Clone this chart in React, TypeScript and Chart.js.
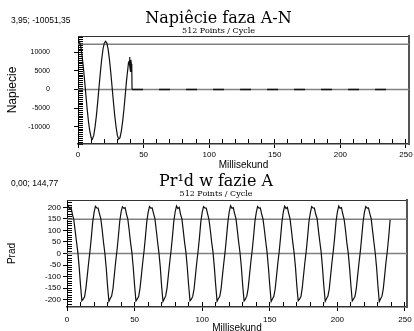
import React, { useEffect, useRef } from "react";
import { Chart, registerables } from "chart.js";

Chart.register(...registerables);

// ---------------- data ----------------
const voltTitle = "Napiêcie faza A-N";
const currTitle = "Pr¹d w fazie A";
const subtitleText = "512 Points / Cycle";
const xAxisTitle = "Millisekund";
const voltAxisTitle = "Napiecie";
const currAxisTitle = "Prad";
const voltReadout = "3,95; -10051,35";
const currReadout = "0,00; 144,77";

const timeTickLabels = [0, 50, 100, 150, 200, 250];
const timeMinorStep = 10;
const voltTickLabels = [-10000, -5000, 0, 5000, 10000];
const voltMinorStep = 500;
const currTickLabels = [-200, -150, -100, -50, 0, 50, 100, 150, 200];
const currMinorStep = 10;

// Voltage phase A-N (ms, V)
const voltTime = [
  0, 1, 2, 3, 4, 5, 6, 7, 8, 9, 10, 11, 12, 13, 14, 15, 16, 17, 18, 19,
  20, 21, 22, 23, 24, 25, 26, 27, 28, 29, 30, 31, 32, 33, 34, 35, 36, 37, 38,
  38.5, 39, 39.3, 39.6, 40, 40.3, 40.7, 41, 41.2,
];
const voltValues = [
  12850, 12900, 11650, 9360, 6200, 2480, -1490, -5310, -8650, -11180,
  -12900, -13300, -12300, -10030, -7060, -3450, 500, 4380, 7880, 10620,
  12390, 12900, 12400, 10630, 7900, 4450, 570, -3370, -7000, -9980,
  -12300, -13300, -12900, -11210, -8690, -5370, -1550, 2430, 5600,
  7200, 7500, 8700, 6200, 4800, 7900, 6800, 6300, 0,
];
// flat (zero) remainder of the voltage record
const voltTailTime = [41.2, 239];
const voltTailValues = [0, 0];
const voltRefLevels = [0, 12100];

// Current phase A, one sample per ms
const currStepMs = 1;
const currValues = [
  182, 206, 195, 200, 170, 148, 100, 52, 6, -58, -138, -205, -198, -188, -150, -96, -40, 10, 70, 136,
  176, 205, 198, 197, 173, 151, 104, 49, 2, -62, -141, -207, -195, -185, -153, -94, -36, 14, 74, 139,
  179, 203, 196, 199, 171, 149, 101, 48, 5, -61, -139, -206, -197, -187, -151, -97, -39, 11, 71, 137,
  177, 204, 197, 198, 174, 152, 103, 51, 3, -59, -142, -208, -196, -184, -150, -93, -37, 13, 73, 140,
  180, 206, 195, 200, 170, 150, 99, 47, 4, -63, -140, -205, -198, -186, -154, -96, -38, 12, 70, 138,
  178, 203, 198, 197, 172, 148, 102, 50, 6, -60, -138, -207, -195, -187, -152, -95, -40, 10, 72, 136,
  181, 207, 196, 199, 173, 151, 100, 49, 2, -61, -141, -206, -197, -185, -151, -94, -36, 14, 74, 139,
  177, 204, 197, 198, 171, 149, 103, 52, 5, -62, -139, -208, -196, -186, -153, -97, -39, 11, 71, 137,
  179, 205, 195, 200, 174, 150, 101, 48, 3, -59, -140, -205, -198, -188, -150, -93, -37, 13, 73, 140,
  176, 203, 198, 197, 170, 152, 99, 51, 6, -63, -142, -207, -195, -184, -154, -96, -38, 12, 70, 138,
  180, 206, 196, 199, 172, 148, 102, 47, 4, -60, -138, -206, -197, -187, -152, -95, -40, 10, 72, 136,
  178, 204, 197, 198, 173, 151, 100, 50, 2, -61, -141, -208, -196, -185, -151, -94, -36, 14, 74, 146,
];
const currRefLevels = [0, 148];

// ---------------- styling ----------------
const SANS = '"Liberation Sans", Arial, sans-serif';
const SERIF = '"DejaVu Serif", serif';

type Pt = { x: number; y: number };

interface PanelSpec {
  title: string;
  yTitle: string;
  series: Pt[];
  tail?: Pt[];
  refLevels: number[];
  xMax: number;
  yMin: number;
  yMax: number;
  yStep: number;
  yLabels: number[];
  padLeft: number;
  padRight: number;
  yAxisWidth: number;
  yLabelPad: number;
  yLabelSize: number;
  yTitleSize: number;
  yTitlePad: number;
  titleTop: number;
  subTop: number;
  subBottom: number;
  xAxisHeight: number;
  xLabelPad: number;
  xTitlePad: number;
}

function buildConfig(p: PanelSpec): any {
  const datasets: any[] = [
    {
      data: p.series,
      borderColor: "#111",
      borderWidth: 1.2,
      pointRadius: 0,
      tension: 0,
      xAxisID: "x",
      yAxisID: "y",
      order: 0,
    },
  ];
  if (p.tail) {
    datasets.push({
      data: p.tail,
      borderColor: "#111",
      borderWidth: 1.6,
      borderDash: [11, 16],
      pointRadius: 0,
      xAxisID: "x",
      yAxisID: "y",
      order: 1,
    });
  }
  p.refLevels.forEach((level) => {
    datasets.push({
      data: [
        { x: 0, y: level },
        { x: p.xMax, y: level },
      ],
      borderColor: "#808080",
      borderWidth: 1.5,
      pointRadius: 0,
      xAxisID: "x",
      yAxisID: "y",
      order: 2,
    });
  });

  return {
    type: "line",
    data: { datasets },
    options: {
      responsive: false,
      animation: false,
      devicePixelRatio: 1,
      events: [],
      layout: { padding: { left: p.padLeft, right: p.padRight, top: 0, bottom: 0 } },
      plugins: {
        legend: { display: false },
        tooltip: { enabled: false },
        title: {
          display: true,
          text: p.title,
          color: "#000",
          font: { family: SERIF, size: 16, weight: "normal", lineHeight: 1 },
          padding: { top: p.titleTop, bottom: 0 },
        },
        subtitle: {
          display: true,
          text: subtitleText,
          color: "#000",
          font: { family: SERIF, size: 8, weight: "normal", lineHeight: 1 },
          padding: { top: p.subTop, bottom: p.subBottom },
        },
      },
      scales: {
        // minor "comb" ticks pointing into the plot (innermost, zero size)
        xMinor: {
          type: "linear",
          axis: "x",
          position: "bottom",
          min: 0,
          max: p.xMax,
          ticks: { display: false, stepSize: timeMinorStep, autoSkip: false, includeBounds: false },
          grid: { drawOnChartArea: false, tickLength: -5, tickColor: "#000", tickWidth: 1 },
          border: { display: false },
          afterFit: (s: any) => {
            s.height = 0;
            s.paddingLeft = 0;
            s.paddingRight = 0;
          },
        },
        yMinor: {
          type: "linear",
          axis: "y",
          position: "left",
          min: p.yMin,
          max: p.yMax,
          ticks: { display: false, stepSize: p.yStep, autoSkip: false, includeBounds: false },
          grid: { drawOnChartArea: false, tickLength: -5, tickColor: "#000", tickWidth: 1 },
          border: { display: false },
          afterFit: (s: any) => {
            s.width = 0;
            s.paddingTop = 0;
            s.paddingBottom = 0;
          },
        },
        // labelled axes with short outward ticks
        x: {
          type: "linear",
          position: "bottom",
          min: 0,
          max: p.xMax,
          afterBuildTicks: (s: any) => {
            s.ticks = timeTickLabels.map((v) => ({ value: v }));
          },
          ticks: {
            autoSkip: false,
            maxRotation: 0,
            padding: p.xLabelPad,
            color: "#000",
            font: { family: SANS, size: 8 },
            callback: (v: number) => String(v),
          },
          grid: { drawOnChartArea: false, tickLength: 4, tickColor: "#000", tickWidth: 1 },
          border: { display: true, color: "#333", width: 1.5 },
          title: {
            display: true,
            text: xAxisTitle,
            color: "#000",
            font: { family: SANS, size: 10 },
            padding: { top: 0, bottom: p.xTitlePad },
          },
          afterFit: (s: any) => {
            s.height = p.xAxisHeight;
            s.paddingLeft = 0;
            s.paddingRight = 0;
          },
        },
        y: {
          type: "linear",
          position: "left",
          min: p.yMin,
          max: p.yMax,
          afterBuildTicks: (s: any) => {
            s.ticks = p.yLabels.map((v) => ({ value: v }));
          },
          ticks: {
            autoSkip: false,
            padding: p.yLabelPad,
            color: "#000",
            font: { family: SANS, size: p.yLabelSize },
            callback: (v: number) => String(v),
          },
          grid: { drawOnChartArea: false, tickLength: 4, tickColor: "#000", tickWidth: 1 },
          border: { display: true, color: "#000", width: 1 },
          title: {
            display: true,
            text: p.yTitle,
            color: "#000",
            font: { family: SANS, size: p.yTitleSize },
            padding: { top: p.yTitlePad, bottom: 0 },
          },
          afterFit: (s: any) => {
            s.width = p.yAxisWidth;
            s.paddingTop = 0;
            s.paddingBottom = 0;
          },
        },
        xTop: {
          type: "linear",
          axis: "x",
          position: "top",
          min: 0,
          max: p.xMax,
          ticks: { display: false },
          grid: { display: false },
          border: { display: true, color: "#333", width: 1 },
          afterFit: (s: any) => {
            s.height = 0;
            s.paddingLeft = 0;
            s.paddingRight = 0;
          },
        },
        yRight: {
          type: "linear",
          axis: "y",
          position: "right",
          min: p.yMin,
          max: p.yMax,
          ticks: { display: false },
          grid: { display: false },
          border: { display: true, color: "#555", width: 2 },
          afterFit: (s: any) => {
            s.width = 0;
            s.paddingTop = 0;
            s.paddingBottom = 0;
          },
        },
      },
    },
  };
}

function Panel({ config, top, width, height }: { config: any; top: number; width: number; height: number }) {
  const ref = useRef<HTMLCanvasElement>(null);
  useEffect(() => {
    if (!ref.current) return;
    const chart = new Chart(ref.current, config);
    return () => chart.destroy();
  }, [config]);
  return (
    <canvas
      ref={ref}
      width={width}
      height={height}
      style={{ position: "absolute", left: 0, top, width, height, display: "block" }}
    />
  );
}

const voltConfig = buildConfig({
  title: voltTitle,
  yTitle: voltAxisTitle,
  series: voltTime.map((t, i) => ({ x: t, y: voltValues[i] })),
  tail: voltTailTime.map((t, i) => ({ x: t, y: voltTailValues[i] })),
  refLevels: voltRefLevels,
  xMax: 252.3,
  yMin: -14600,
  yMax: 14300,
  yStep: voltMinorStep,
  yLabels: voltTickLabels,
  padLeft: 28,
  padRight: 5,
  yAxisWidth: 50,
  yLabelPad: 24,
  yLabelSize: 7,
  yTitleSize: 12,
  yTitlePad: -22.4,
  titleTop: 10.5,
  subTop: 0,
  subBottom: 1.5,
  xAxisHeight: 26,
  xLabelPad: 2.2,
  xTitlePad: -1,
});

const currConfig = buildConfig({
  title: currTitle,
  yTitle: currAxisTitle,
  series: currValues.map((v, i) => ({ x: i * currStepMs, y: v })),
  refLevels: currRefLevels,
  xMax: 251.5,
  yMin: -232,
  yMax: 232,
  yStep: currMinorStep,
  yLabels: currTickLabels,
  padLeft: 25,
  padRight: 7,
  yAxisWidth: 42,
  yLabelPad: 2,
  yLabelSize: 8,
  yTitleSize: 10,
  yTitlePad: -18.5,
  titleTop: 3.7,
  subTop: 0.3,
  subBottom: 2,
  xAxisHeight: 24,
  xLabelPad: 3.7,
  xTitlePad: -3,
});

const readoutStyle: React.CSSProperties = {
  position: "absolute",
  left: 11,
  fontFamily: SANS,
  fontSize: 8.5,
  lineHeight: "9px",
  color: "#000",
  whiteSpace: "nowrap",
};

export default function App() {
  return (
    <div
      style={{
        position: "absolute",
        left: 0,
        top: 0,
        width: 414,
        height: 331,
        background: "#fff",
        overflow: "hidden",
      }}
    >
      <Panel config={voltConfig} top={0} width={414} height={170} />
      <Panel config={currConfig} top={170} width={414} height={161} />
      <div style={{ ...readoutStyle, top: 15.5 }}>{voltReadout}</div>
      <div style={{ ...readoutStyle, top: 178.5 }}>{currReadout}</div>
    </div>
  );
}
